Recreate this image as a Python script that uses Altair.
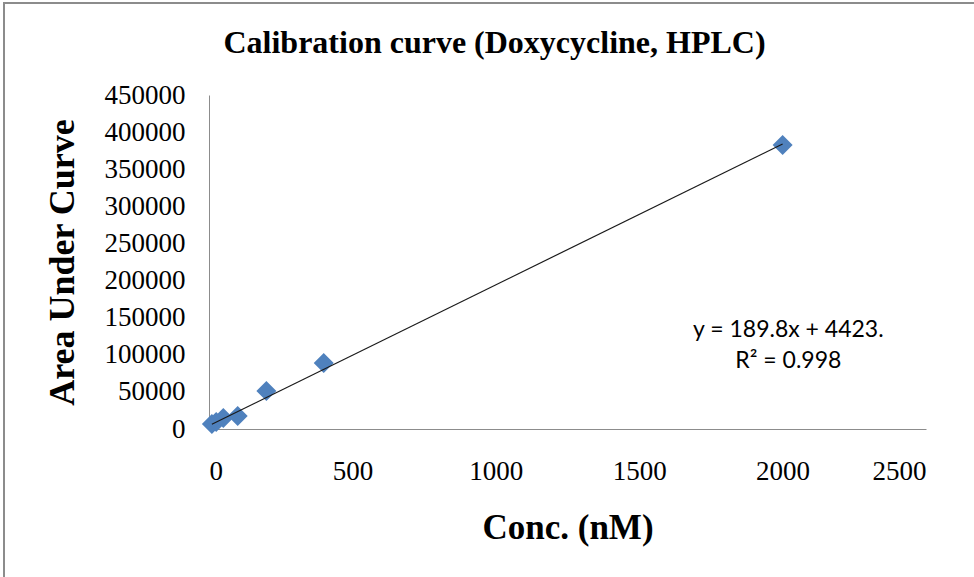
import altair as alt
import pandas as pd

# Calibration standards: concentration (nM) vs. peak area
conc_nm = [10, 25, 50, 100, 200, 400, 2000]
area = [6700, 9500, 14800, 17500, 51200, 88900, 382700]

# Linear least-squares fit reported on the chart
slope = 189.8
intercept = 4423
r_squared = 0.998

x_ticks = [0, 500, 1000, 1500, 2000, 2500]
y_ticks = list(range(0, 450001, 50000))

# Where the fit equation sits, in data units
eq_x = 2020
eq_y = 134000

points = pd.DataFrame({"conc": conc_nm, "area": area})
x_lo, x_hi = min(conc_nm), max(conc_nm)
fit = pd.DataFrame({
    "conc": [x_lo, x_hi],
    "area": [slope * x_lo + intercept, slope * x_hi + intercept],
})
label = pd.DataFrame({
    "conc": [eq_x],
    "area": [eq_y],
    "text": [f"y = {slope}x + {intercept}.\nR\u00b2 = {r_squared}"],
})

x_scale = alt.Scale(domain=[0, 2500], nice=False, zero=True)
y_scale = alt.Scale(domain=[0, 450000], nice=False, zero=True)

x_axis = alt.Axis(
    title="Conc. (nM)", values=x_ticks, format="d", grid=False, ticks=False,
    domainColor="#8c8c8c", labelFont="Liberation Serif", labelFontSize=27,
    labelColor="#000000", labelPadding=29, labelOverlap=False,
    titleFont="Liberation Serif", titleFontSize=35, titleFontWeight="bold",
    titleColor="#000000", titlePadding=26,
)
y_axis = alt.Axis(
    title="Area Under Curve", values=y_ticks, format="d", grid=False, ticks=False,
    domainColor="#8c8c8c", labelFont="Liberation Serif", labelFontSize=27,
    labelColor="#000000", labelPadding=24, labelOverlap=False,
    titleFont="Liberation Serif", titleFontSize=36, titleFontWeight="bold",
    titleColor="#000000", titlePadding=23,
)

x_enc = alt.X("conc:Q", scale=x_scale, axis=x_axis)
y_enc = alt.Y("area:Q", scale=y_scale, axis=y_axis)

frame = alt.Chart(pd.DataFrame({"k": [0]})).mark_rect(
    fill=None, filled=False, stroke="#8c8c8c", strokeWidth=2
).encode(
    x=alt.value(-205), x2=alt.value(780), y=alt.value(-92), y2=alt.value(500)
)

scatter = alt.Chart(points).mark_point(
    shape="diamond", filled=True, size=400, color="#4f81bd", opacity=1
).encode(x=x_enc, y=y_enc)

trend = alt.Chart(fit).mark_line(color="#1a1a1a", strokeWidth=1.2).encode(
    x=x_enc, y=y_enc
)

equation = alt.Chart(label).mark_text(
    font="Lato", fontSize=23, color="#000000", align="center",
    baseline="middle", lineBreak="\n", lineHeight=31,
).encode(x=x_enc, y=y_enc, text="text:N")

chart = alt.layer(frame, scatter, trend, equation).properties(
    width=717,
    height=334,
    background="#ffffff",
    autosize=alt.AutoSizeParams(type="none"),
    padding={"left": 209, "top": 95, "right": 48, "bottom": 148},
    title=alt.TitleParams(
        "Calibration curve (Doxycycline, HPLC)", font="Liberation Serif",
        fontSize=32, fontWeight="bold", color="#000000", anchor="middle",
        baseline="bottom", frame="group", dx=-73, offset=0, dy=90,
    ),
).configure_view(stroke=None).configure_axis(labelOverlap=False)

chart.save("out.html", embed_options={"renderer": "svg", "actions": False})
